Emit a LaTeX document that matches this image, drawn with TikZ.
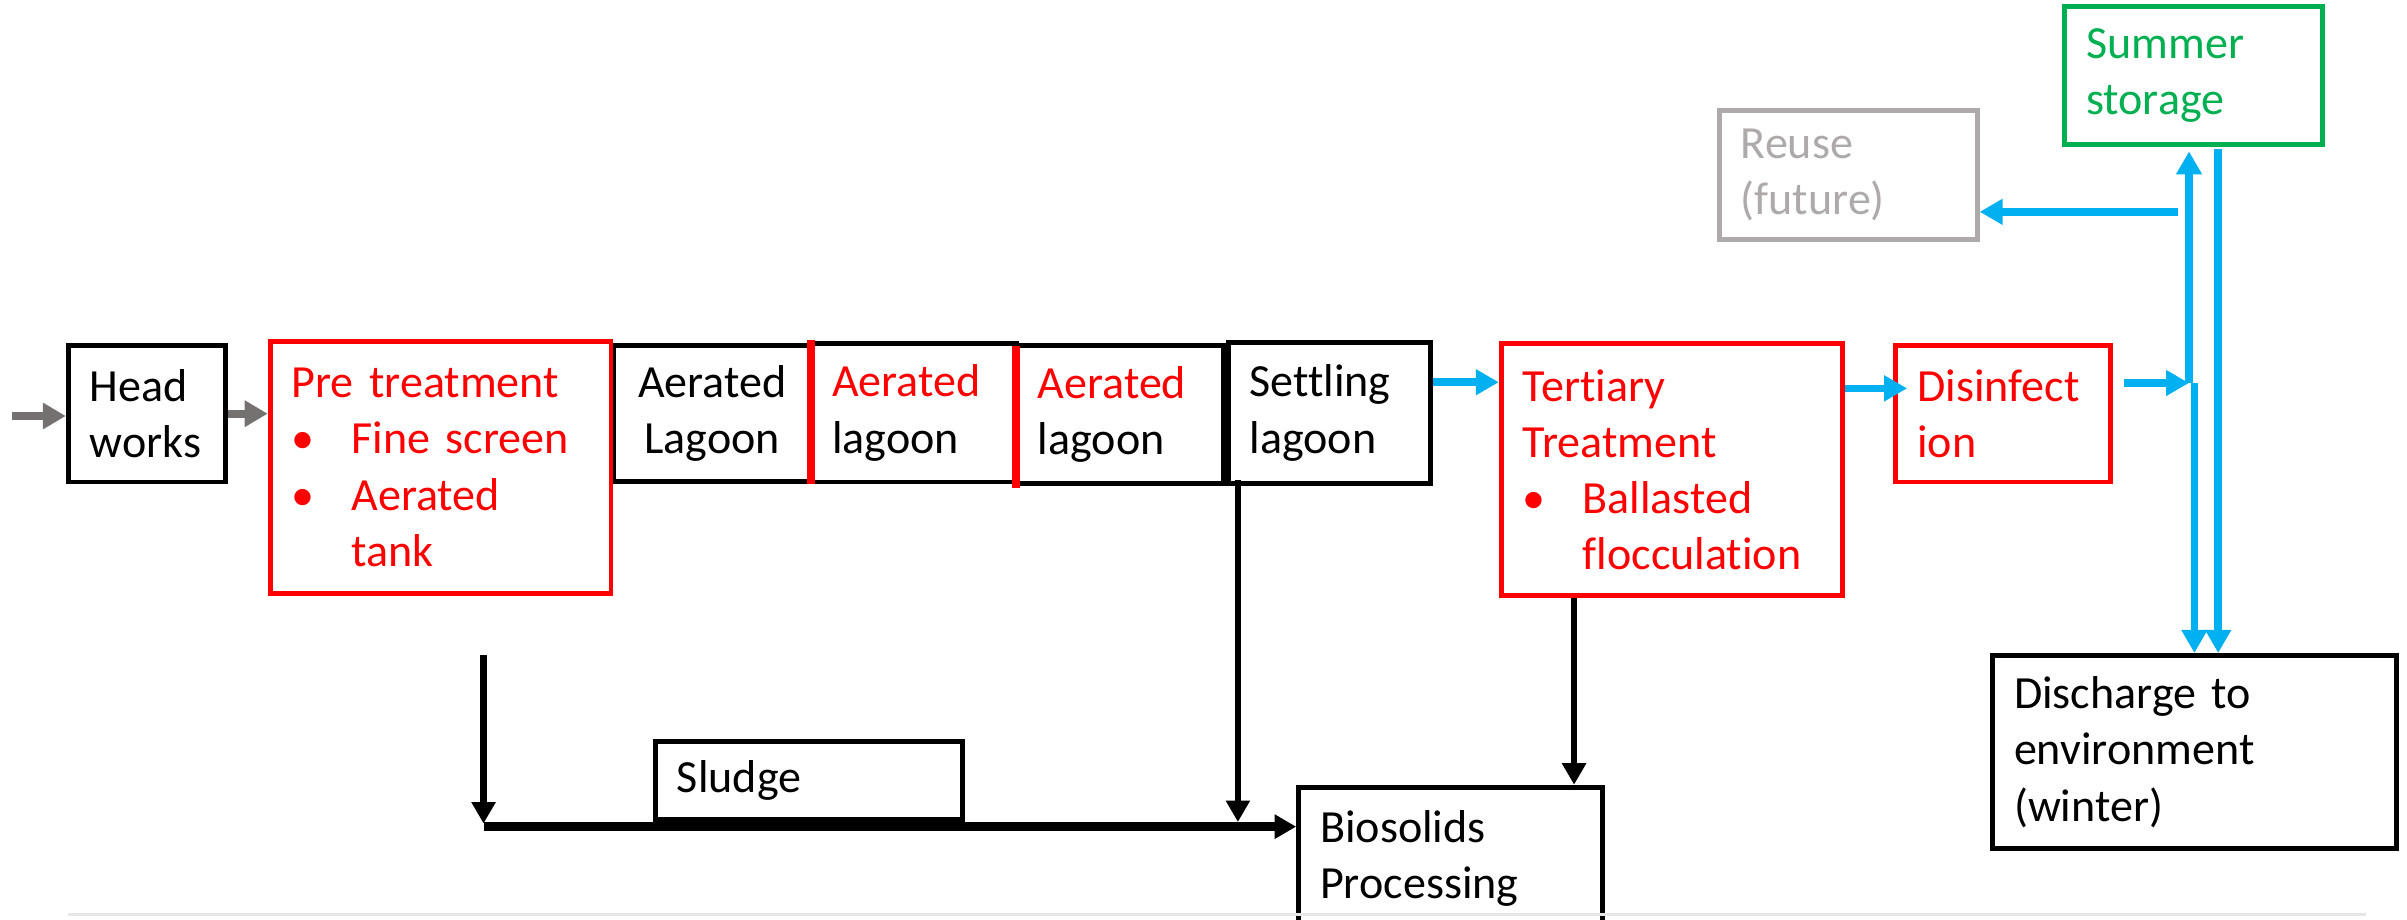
\documentclass[tikz,border=0pt]{standalone}
\usepackage{fontspec}
\setmainfont{Carlito}[Ligatures={NoCommon,NoContextual}]
\usetikzlibrary{arrows.meta,calc}
\definecolor{pred}{HTML}{FF0000}
\definecolor{pgreen}{HTML}{00B050}
\definecolor{pblue}{HTML}{00B0F0}
\definecolor{pgray}{HTML}{AEAAAA}
\definecolor{agray}{HTML}{767171}
\definecolor{lgray}{HTML}{E7E6E6}
\newcommand{\blt}{\makebox[19.5pt][l]{\textbullet}}
\newcommand{\ind}{\hspace*{19.5pt}}
\begin{document}
\begin{tikzpicture}[x=0.5pt,y=-0.5pt,
  every node/.style={font=\fontsize{15pt}{18.3pt}\selectfont},
  box/.style={draw, line width=1.6pt, rectangle, inner xsep=7pt, inner ysep=0pt, align=left},
  redbox/.style={box, draw=pred, text=pred},
  greenbox/.style={box, draw=pgreen, text=pgreen},
  graybox/.style={box, draw=pgray, text=pgray},
  grayarr/.style={draw=agray, line width=2.7pt, -{Triangle[length=7.5pt,width=8.2pt]}},
  bluearr/.style={draw=pblue, line width=2.5pt, -{Triangle[length=7.5pt,width=8pt]}},
  blkarr/.style={draw=black, line width=2pt, -{Triangle[length=7pt,width=7.5pt]}},
  blkharr/.style={draw=black, line width=2.8pt, -{Triangle[length=7pt,width=7.5pt]}},
  sep/.style={draw=pred, line width=2.6pt}
]
\useasboundingbox (0,0) rectangle (1568,598.7);
\clip (0,0) rectangle (1568,598.7);

% boxes
\node[box, text width=37.25pt, minimum height=44.5pt] (hw) at (95.75,269.5) {Head\\works};
\node[box, align=center, text width=50pt, minimum height=44.25pt] (al1) at (464,269.25) {Aerated\\Lagoon};
\node[redbox, text width=97pt, minimum height=82.25pt] (pre) at (287,304.5) {Pre treatment\\\blt Fine screen\\\blt Aerated\\\ind tank};
\node[box, text width=53pt, minimum height=45pt] (al2) at (595,269) {\textcolor{pred}{Aerated}\\lagoon};
\node[box, text width=53.5pt, minimum height=45pt] (al3) at (729.5,270) {\textcolor{pred}{Aerated}\\lagoon};
\node[box, text width=52pt, minimum height=46pt] (set) at (866,269) {Settling\\lagoon};
\node[redbox, text width=97pt, minimum height=82pt] (ter) at (1089,306) {Tertiary\\Treatment\\\blt Ballasted\\\ind flocculation};
\node[redbox, text width=56pt, minimum height=44.5pt] (dis) at (1305,269.5) {Disinfect\\ion};
\node[greenbox, text width=70pt, minimum height=45pt] (sum) at (1429,49) {Summer\\storage};
\node[graybox, text width=70pt, minimum height=42pt] (reu) at (1204,114) {Reuse\\(future)};
\node[box, text width=117.5pt, minimum height=63pt] (dch) at (1429.5,490) {Discharge to\\environment\\(winter)};
\node[box, text width=86pt, minimum height=25.5pt] (slu) at (527,508.5) {Sludge};
\node[box, text width=85pt, minimum height=46.2pt] (bio) at (945,559) {Biosolids\\Processing};

% red separators between lagoon cells
\draw[sep] (528,221.5) -- (528,315);
\draw[sep] (662,225.4) -- (662,318);

% gray inflow arrows
\coordinate (in0) at (8,271);
\draw[grayarr] (in0) -- (in0 -| hw.west);
\draw[grayarr] (hw.east) -- (hw.east -| pre.west);

% blue flow arrows
\draw[bluearr] ([yshift=10pt]set.east) -- ([yshift=10pt]set.east -| ter.west);
\draw[bluearr, shorten >=-4.5pt] ([yshift=26.5pt]ter.east) -- ([yshift=26.5pt]ter.east -| dis.west);
\coordinate (J) at (1426,249.5);
\draw[bluearr, shorten <=3.5pt] ([yshift=10pt]dis.east) -- (J);
\draw[bluearr, shorten >=1.5pt] (J) -- (J |- sum.south);
\draw[bluearr] ([xshift=1.75pt]J) -- ([xshift=1.75pt]J |- dch.north);
\coordinate (R) at (1445,97);
\draw[bluearr] (R) -- (R |- dch.north);
\coordinate (RU) at (1419,138);
\draw[bluearr] (RU) -- (RU -| reu.east);

% black sludge arrows
\coordinate (P) at (315,427);
\coordinate (M) at (315,538.5);
\draw[blkarr, shorten >=1pt] (P) -- (M);
\draw[blkharr] (M) -- (M -| bio.west);
\draw[blkarr, shorten <=-2pt, shorten >=1.5pt] ([xshift=4pt]set.south west) -- ([xshift=4pt]set.south west |- M);
\draw[blkarr] ([xshift=24.5pt]ter.south west) -- ([xshift=24.5pt]ter.south west |- bio.north);

% faint rule at the bottom
\draw[lgray, line width=1pt] (44,595.5) -- (1541,595.5);
\end{tikzpicture}
\end{document}
